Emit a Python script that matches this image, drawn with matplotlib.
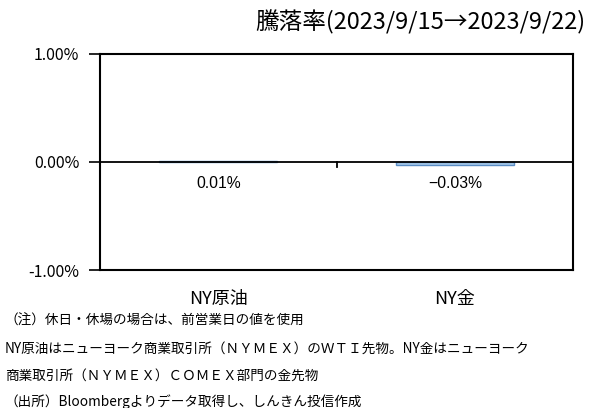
import matplotlib.pyplot as plt
from matplotlib.ticker import FuncFormatter

plt.rcParams['font.family'] = ['Noto Sans CJK JP', 'DejaVu Sans']

categories = ["NY原油", "NY金"]
values = [0.01, -0.03]  # percent
value_labels = ["0.01%", "−0.03%"]
title = "騰落率(2023/9/15→2023/9/22)"
notes = [
    "（注）休日・休場の場合は、前営業日の値を使用",
    "NY原油はニューヨーク商業取引所（ＮＹＭＥＸ）のＷＴＩ先物。NY金はニューヨーク",
    "商業取引所（ＮＹＭＥＸ）ＣＯＭＥＸ部門の金先物",
    "（出所）Bloombergよりデータ取得し、しんきん投信作成",
]

fig = plt.figure(figsize=(5.97, 4.08), dpi=100)
ax = fig.add_axes([0.1675, 0.338, 0.7925, 0.53])

x = range(len(categories))
ax.bar(x, values, width=0.5, color="#a9cbea", edgecolor="#5b8dc4", linewidth=1.0, zorder=2)
ax.axhline(0, color="black", linewidth=1.3, zorder=3)

ax.set_xlim(-0.5, len(categories) - 0.5)
ax.set_ylim(-1, 1)
ax.set_yticks([-1, 0, 1])
ax.yaxis.set_major_formatter(FuncFormatter(lambda v, p: f"{v:.2f}%"))
ax.tick_params(axis="y", direction="out", length=8, width=1.2, labelsize=11.5, pad=7)

ax.set_xticks(list(x))
ax.set_xticklabels(categories, fontsize=13)
ax.tick_params(axis="x", length=0, pad=14)

for s in ax.spines.values():
    s.set_linewidth(1.5)

# category boundary tick on the zero line
for i in range(len(categories) - 1):
    ax.plot([i + 0.5, i + 0.5], [0, -0.045], color="black", lw=1.3, zorder=3)

for i, lab in enumerate(value_labels):
    ax.annotate(lab, xy=(i, 0), xytext=(0, -10), textcoords="offset points",
                ha="center", va="top", fontsize=11.3, family=["Liberation Sans", "DejaVu Sans"])

fig.text(0.98, 0.945, title, ha="right", va="center", fontsize=17)

note_y = [0.215, 0.145, 0.08, 0.015]
for t, yy in zip(notes, note_y):
    fig.text(0.008, yy, t, ha="left", va="center", fontsize=9.8)

plt.savefig("out.png", dpi=100)
